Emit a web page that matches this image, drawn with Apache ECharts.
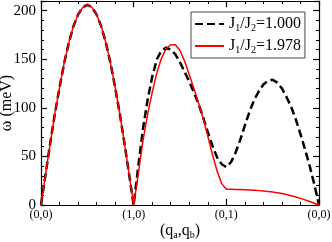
<!DOCTYPE html>
<html><head><meta charset="utf-8">
<script src="https://cdn.jsdelivr.net/npm/echarts@6/dist/echarts.min.js"></script>
<style>html,body{margin:0;padding:0;background:#fff}#c{width:332px;height:242px}</style>
</head><body><div id="c"></div>
<script>
const xTickLabels = ['(0,0)', '(1,0)', '(0,1)', '(0,0)'];
// path coordinate: 0..1 (0,0)->(1,0), 1..2 (1,0)->(0,1), 2..3 (0,1)->(0,0)
const qPath = [
  0,0.05,0.1,0.15,0.2,0.25,0.3,0.35,0.4,0.45,0.5,0.55,0.6,0.65,0.7,0.75,0.8,0.85,0.9,0.95,1.0,
  1.05,1.1,1.15,1.2,1.25,1.3,1.35,1.4,1.45,1.5,1.55,1.6,1.65,1.7,1.75,1.8,1.85,1.9,1.95,2.0,
  2.05,2.1,2.15,2.2,2.25,2.3,2.35,2.4,2.45,2.5,2.55,2.6,2.65,2.7,2.75,2.8,2.85,2.9,2.95,3.0
];
const omegaJ1000 = [
  0,32,64,94,121,146,167,184,196,203.5,206,203.5,196,184,167,146,121,94,64,32,0,
  40,78,108,132,150,159,162,160,155,147,137,127,116,104,90,75,61,49,42,39,
  44,54,67,82,96,108,117,124,128,129,126,120,111,101,88,73,57,40,21,0
];
const omegaJ1978 = [
  0,32,64,94,121,146,167,184,196,203.5,206,203.5,196,184,167,146,121,94,64,32,0,
  32,66,93,116,136,151,161,165,165,159,148,134,120,105,89,71,52,35,22,16.2,
  16.1,16,15.9,15.7,15.5,15.2,14.8,14.4,13.9,13.3,12.6,11.8,10.8,9.6,8.3,6.8,5.3,3.6,1.8,0
];
const seriesNames = ['J1/J2=1.000', 'J1/J2=1.978'];

const FONT = "'Liberation Serif', 'Times New Roman', 'DejaVu Serif', serif";
const subRich = {
  s: {fontFamily: FONT, fontSize: 10, color: '#000', verticalAlign: 'bottom', lineHeight: 10}
};
function pairs(xs, ys) { return xs.map((x, i) => [x, ys[i]]); }
function richSub(name) { return name.replace('J1', 'J{s|1}').replace('J2', 'J{s|2}'); }

const tickCommon = {
  axisLine: {show: true, onZero: false, lineStyle: {color: '#000', width: 1.2}},
  axisTick: {show: true, inside: true, length: 6, lineStyle: {color: '#000', width: 1.2}},
  minorTick: {show: true, splitNumber: 5, length: 3, lineStyle: {color: '#000', width: 1}},
  splitLine: {show: false}, minorSplitLine: {show: false}
};

const chart = echarts.init(document.getElementById('c'), null, {renderer: 'canvas'});
chart.setOption({
  animation: false,
  backgroundColor: '#fff',
  grid: {left: 41, right: 13, top: 1, bottom: 37, containLabel: false, outerBoundsMode: 'none'},
  legend: {
    orient: 'vertical', left: 191, top: 12,
    padding: [3, 4, 3, 3], itemGap: 4, itemWidth: 29, itemHeight: 12,
    borderColor: '#444', borderWidth: 1, backgroundColor: '#fff',
    itemStyle: {opacity: 0},
    formatter: richSub,
    textStyle: {fontFamily: FONT, fontSize: 16, color: '#000', lineHeight: 18, rich: subRich},
    data: seriesNames
  },
  xAxis: [
    Object.assign({
      type: 'value', min: 0, max: 3, interval: 1, position: 'bottom',
      name: '(q{s|a},q{s|b})', nameLocation: 'middle', nameGap: 17, nameMoveOverlap: false,
      nameTextStyle: {fontFamily: FONT, fontSize: 16, color: '#000', lineHeight: 18, rich: subRich},
      axisLabel: {show: true, margin: 4, fontFamily: FONT, fontSize: 12, color: '#000',
        formatter: v => xTickLabels[Math.round(v)]}
    }, tickCommon),
    Object.assign({
      type: 'value', min: 0, max: 3, interval: 1, position: 'top',
      axisLabel: {show: false}
    }, tickCommon)
  ],
  yAxis: [
    Object.assign({
      type: 'value', min: 0, max: 210, interval: 50, position: 'left',
      name: 'ω (meV)', nameLocation: 'middle', nameGap: 26, nameRotate: 90, nameMoveOverlap: false,
      nameTextStyle: {fontFamily: FONT, fontSize: 16, color: '#000'},
      axisLabel: {show: true, margin: 5, fontFamily: FONT, fontSize: 15, color: '#000',
        showMaxLabel: false, formatter: v => (v % 50 === 0 ? String(v) : '')}
    }, tickCommon),
    Object.assign({
      type: 'value', min: 0, max: 210, interval: 50, position: 'right',
      axisLabel: {show: false}
    }, tickCommon)
  ],
  series: [
    {
      name: seriesNames[0], type: 'line', showSymbol: false, symbol: 'none',
      xAxisIndex: 0, yAxisIndex: 0,
      lineStyle: {color: '#000', width: 2.5, type: [8, 4]},
      itemStyle: {color: '#000'},
      data: pairs(qPath, omegaJ1000), z: 2
    },
    {
      name: seriesNames[1], type: 'line', showSymbol: false, symbol: 'none',
      xAxisIndex: 0, yAxisIndex: 0,
      lineStyle: {color: '#ff0000', width: 1.5, type: 'solid'},
      itemStyle: {color: '#ff0000'},
      data: pairs(qPath, omegaJ1978), z: 3
    }
  ]
});
</script></body></html>
